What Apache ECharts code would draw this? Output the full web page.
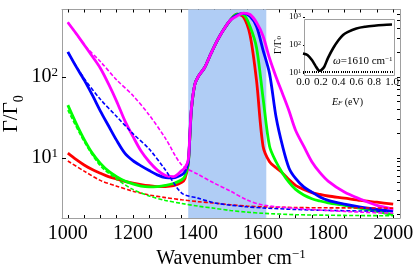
<!DOCTYPE html>
<html><head><meta charset="utf-8">
<script src="https://cdn.jsdelivr.net/npm/echarts@6/dist/echarts.min.js"></script>
<style>html,body{margin:0;padding:0;background:#fff}#c{width:415px;height:277px}</style>
</head><body><div id="c"></div>
<script>
// ---- data ----
const wavenumber = [1000,1025,1050,1075,1100,1125,1150,1175,1200,1225,1250,1275,1300,1325,1350,1360,1370,1375,1380,1390,1400,1420,1440,1460,1480,1500,1520,1540,1560,1580,1600,1620,1640,1660,1680,1700,1725,1750,1775,1800,1850,1900,1950,2000];
const redSolid = [11.5,9.6,8.2,7.2,6.5,5.9,5.5,5.15,4.9,4.7,4.55,4.45,4.45,4.55,5.0,5.6,8.5,18,40,80,100,130,195,285,390,505,595,550,330,90,14,9.0,7.6,6.5,5.4,4.6,4.1,3.75,3.55,3.4,3.2,3.0,2.85,2.7];
const greenSolid = [45,27,17,11.5,8.6,6.9,5.9,5.2,4.8,4.5,4.4,4.45,4.6,4.85,5.4,6.0,8.5,18,40,80,100,130,195,285,390,505,595,585,420,230,55,14,9,6.5,5.0,4.1,3.5,3.15,2.95,2.8,2.6,2.4,2.2,2.0];
const blueSolid = [204,135,92,60,38,25,16.5,11.5,9.3,8.0,7.0,6.2,5.75,5.7,6.2,6.8,9,19,41,80,100,130,195,285,390,505,580,610,560,420,215,110,32,14,7.5,5.6,4.4,3.8,3.3,3.0,2.7,2.48,2.33,2.22];
const magentaSolid = [470,346,250,180,128,82,50,29,18.5,12.2,9.0,7.1,6.1,5.9,7.0,7.6,9.5,20,42,80,100,130,195,285,390,505,565,615,590,470,320,170,100,62,38,22,14,9.0,6.6,5.2,3.8,3.1,2.6,2.35];

const wavenumberDashed = [1000,1050,1100,1150,1200,1250,1300,1350,1400,1450,1500,1550,1600,1700,1800,1900,2000];
const magentaDashed = [477,250,155,92,59,34,17.5,8.2,6.3,4.9,3.9,3.05,2.63,2.4,2.25,2.15,2.09];
const blueDashed = [200,96,53,32.5,20,12.9,7.1,3.7,3.2,2.8,2.62,2.5,2.42,2.32,2.26,2.22,2.2];
const greenDashed = [39,16,8.0,5.5,4.1,3.4,3.0,2.75,2.55,2.4,2.25,2.15,2.08,2.0,1.97,1.95,1.94];
const redDashed = [9.2,6.9,5.3,4.5,3.9,3.5,3.25,3.05,2.9,2.78,2.65,2.55,2.5,2.45,2.43,2.42,2.41];

const bandRange = [1370, 1610];

const xTickLabels = [1000,1200,1400,1600,1800,2000];
const yTickLabels = [10,100];

const insetEF = [0,0.05,0.1,0.14,0.17,0.19,0.21,0.24,0.28,0.34,0.4,0.45,0.5,0.6,0.7,0.8,0.9,1.0];
const insetGamma = [50,44,29,18,13,12,13,17,34,78,150,229,290,390,450,490,520,540];
const insetXTicks = [0,0.2,0.4,0.6,0.8,1.0];
const insetYTicks = [10,100,1000];

// ---- build ----
const FF = 'Liberation Serif';
const pair = (xs, ys) => xs.map((x, i) => [x, ys[i]]);
const xMinor = []; for (let v = 1000; v <= 2000; v += 50) xMinor.push(v);
const yMinor = []; [1, 10, 100].forEach(d => { for (let k = 2; k <= 9; k++) { const v = k * d; if (v > 1.82 && v < 680) yMinor.push(v); } });
const insetXMinor = []; for (let i = 0; i <= 40; i++) insetXMinor.push(+(i * 0.025).toFixed(3));

const supRich = {
  b: {fontFamily: FF, fontSize: 20, color: '#000'},
  s: {fontFamily: FF, fontSize: 13, color: '#000', verticalAlign: 'top', padding: [0, 0, 8, 0]}
};

function solid(name, color, ys) {
  return {name, type: 'line', xAxisIndex: 0, yAxisIndex: 0, data: pair(wavenumber, ys), showSymbol: false, smooth: 0.3,
    lineStyle: {color, width: 2.8}, z: 3};
}
function dashed(name, color, ys) {
  return {name, type: 'line', xAxisIndex: 0, yAxisIndex: 0, data: pair(wavenumberDashed, ys), showSymbol: false, smooth: 0.3,
    lineStyle: {color, width: 1.6, type: [4, 2]}, z: 4};
}

const axisGray = {lineStyle: {color: '#a0a0a0', width: 1}};
const option = {
  animation: false,
  backgroundColor: '#fff',
  grid: [
    {left: 62, right: 15, top: 9.5, bottom: 59, containLabel: false, outerBoundsMode: 'none'},
    {left: 303, top: 17, width: 89, height: 56, containLabel: false, outerBoundsMode: 'none'}
  ],
  xAxis: [
    {gridIndex: 0, type: 'value', min: 982, max: 2021, position: 'bottom',
      axisLine: axisGray, splitLine: {show: false},
      axisTick: {inside: true, length: 3, customValues: xMinor, lineStyle: {color: '#000'}},
      axisLabel: {customValues: xTickLabels, formatter: v => String(v), fontFamily: FF, fontSize: 20, color: '#000', margin: 6},
      name: '{b|Wavenumber cm}{s|−1}', nameLocation: 'middle', nameGap: 30, nameMoveOverlap: false,
      nameTextStyle: {rich: supRich}},
    {gridIndex: 0, type: 'value', min: 982, max: 2021, position: 'top',
      axisLine: axisGray, splitLine: {show: false},
      axisTick: {inside: true, length: 3, customValues: xMinor, lineStyle: {color: '#000'}},
      axisLabel: {show: false}},
    {gridIndex: 1, type: 'value', min: 0, max: 1, position: 'bottom',
      axisLine: {show: false}, splitLine: {show: false},
      axisTick: {inside: true, length: 2, customValues: insetXMinor, lineStyle: {color: '#000'}},
      axisLabel: {customValues: insetXTicks, formatter: v => v.toFixed(1), fontFamily: FF, fontSize: 11, color: '#000', margin: 4},
      name: '{i|E}{sub|F} (eV)', nameLocation: 'middle', nameGap: 24, nameMoveOverlap: false,
      nameTextStyle: {fontFamily: FF, fontSize: 10, color: '#000', rich: {
        i: {fontFamily: FF, fontStyle: 'italic', fontSize: 10, color: '#000'},
        sub: {fontFamily: FF, fontStyle: 'italic', fontSize: 7, color: '#000', verticalAlign: 'bottom'}}}}
  ],
  yAxis: [
    {gridIndex: 0, type: 'log', logBase: 10, min: 1.82, max: 680, position: 'left',
      axisLine: axisGray, splitLine: {show: false},
      axisTick: {inside: true, length: 4, customValues: yTickLabels, lineStyle: {color: '#000'}},
      axisLabel: {customValues: yTickLabels, margin: 4,
        formatter: v => '{b|10}{s|' + Math.round(Math.log10(v)) + '}', rich: supRich},
      name: '{b|Γ/Γ}{u|0}', nameLocation: 'middle', nameGap: 40, nameMoveOverlap: false,
      nameTextStyle: {rich: {b: {fontFamily: FF, fontSize: 21, color: '#000'},
        u: {fontFamily: FF, fontSize: 14, color: '#000', verticalAlign: 'bottom', padding: [0, 0, -4, 0]}}}},
    {gridIndex: 0, type: 'log', logBase: 10, min: 1.82, max: 680, position: 'right',
      axisLine: axisGray, splitLine: {show: false},
      axisTick: {inside: true, length: 3, customValues: yMinor.concat(yTickLabels), lineStyle: {color: '#000'}},
      axisLabel: {show: false}},
    {gridIndex: 1, type: 'log', logBase: 10, min: 10, max: 1000, position: 'left',
      axisLine: {show: false}, splitLine: {show: false},
      axisTick: {inside: true, length: 2, customValues: insetYTicks, lineStyle: {color: '#000'}},
      axisLabel: {customValues: insetYTicks, margin: 2,
        formatter: v => '{b|10}{s|' + Math.round(Math.log10(v)) + '}', rich: {
          b: {fontFamily: FF, fontSize: 9, color: '#000'},
          s: {fontFamily: FF, fontSize: 6, color: '#000', verticalAlign: 'top', padding: [0, 0, 4, 0]}}},
      name: '{b|Γ/Γ}{u|0}', nameLocation: 'middle', nameGap: 20, nameMoveOverlap: false,
      nameTextStyle: {rich: {b: {fontFamily: FF, fontSize: 10, color: '#000'},
        u: {fontFamily: FF, fontSize: 7, color: '#000', verticalAlign: 'bottom'}}}}
  ],
  graphic: [
    {type: 'rect', left: 302, top: 17, shape: {width: 90, height: 56}, style: {fill: 'none', stroke: '#a0a0a0', lineWidth: 1}, z: 1},
    {type: 'text', left: 333, top: 56, style: {text: '{i|ω}=1610 cm{s|−1}', rich: {
      i: {fontFamily: FF, fontStyle: 'italic', fontSize: 11, fill: '#000'},
      s: {fontFamily: FF, fontSize: 7, fill: '#000', verticalAlign: 'top'}},
      fontFamily: FF, fontSize: 11, fill: '#000'}, z: 10}
  ],
  series: [
    {type: 'line', xAxisIndex: 0, yAxisIndex: 0, data: [], z: 1,
      markArea: {silent: true, itemStyle: {color: '#b0cdf5'}, data: [[{xAxis: bandRange[0]}, {xAxis: bandRange[1]}]]}},
    solid('red', '#ff0000', redSolid),
    solid('green', '#00ff00', greenSolid),
    solid('blue', '#0000ff', blueSolid),
    solid('magenta', '#ff00ff', magentaSolid),
    dashed('redD', '#ff0000', redDashed),
    dashed('greenD', '#00ff00', greenDashed),
    dashed('blueD', '#0000ff', blueDashed),
    dashed('magentaD', '#ff00ff', magentaDashed),
    {type: 'line', xAxisIndex: 2, yAxisIndex: 2, data: pair(insetEF, insetGamma), showSymbol: false, smooth: 0.3,
      lineStyle: {color: '#000', width: 2.6}}
  ]
};
const chart = echarts.init(document.getElementById('c'), null, {renderer: 'canvas'});
chart.setOption(option);
</script>
</body></html>
